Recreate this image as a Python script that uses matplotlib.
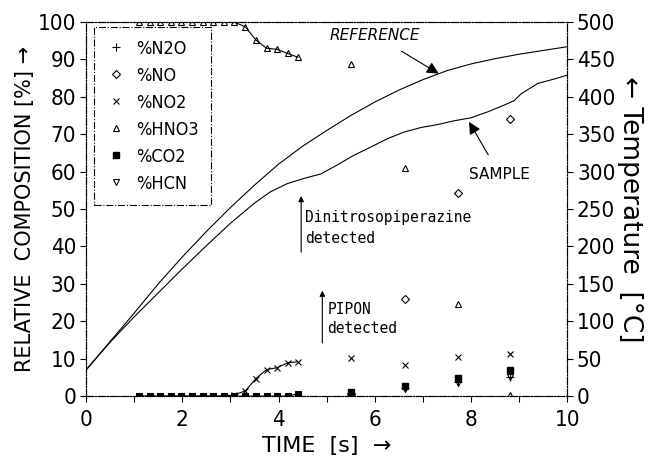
import numpy as np
import matplotlib
matplotlib.use('Agg')
from matplotlib import pyplot as plt
import matplotlib as mpl

mpl.rcParams.update({
    'font.family': ['DejaVu Sans'],
    'font.stretch': 'condensed',
    'font.size': 15,
    'axes.linewidth': 0.8,
})

# dense sampling (0-4.4 s), connected by lines
t_dense = [1.11, 1.33, 1.54, 1.76, 1.98, 2.20, 2.42, 2.64, 2.86, 3.08,
           3.31, 3.53, 3.75, 3.97, 4.19, 4.40]
hno3_dense = [100, 100, 100, 100, 100, 100, 100, 100, 100, 100,
              98.7, 95.2, 93.0, 92.7, 91.6, 90.6]
no2_dense = [0, 0, 0, 0, 0, 0, 0, 0, 0, 0.3,
             1.4, 4.7, 7.1, 7.6, 8.9, 9.2]
co2_dense = [0] * 15 + [0.6]

# sparse sampling, markers only
t_sparse = [5.51, 6.63, 7.74, 8.81]
n2o_sparse = [0.8, 2.2, 3.8, 5.2]
no_sparse = [0.6, 25.9, 54.4, 74.2]
no2_sparse = [10.1, 8.3, 10.5, 11.2]
hno3_sparse = [88.9, 60.9, 24.6, 0.3]
co2_sparse = [1.0, 2.6, 4.8, 7.0]
hcn_sparse = [0.3, 2.0, 3.4, 5.0]

# temperature curves [deg C]
t_ref = [0, 0.5, 1.0, 1.5, 2.0, 2.5, 3.0, 3.5, 4.0, 4.5, 5.0, 5.5,
         6.0, 6.5, 7.0, 7.5, 8.0, 8.5, 9.0, 9.5, 10.0]
temp_ref = [35, 73, 111, 150, 186, 220, 252, 282, 310, 334, 355, 375,
            393, 409, 423, 435, 444, 451, 457, 462, 467]
t_smp = [0, 0.5, 1.0, 1.5, 2.0, 2.5, 3.0, 3.5, 3.83, 4.18, 4.53,
         4.88, 5.22, 5.57, 5.92, 6.26, 6.61, 6.96, 7.31, 7.65, 8.0, 8.35,
         8.69, 8.9, 9.04, 9.39, 9.74, 10.0]
temp_smp = [35, 72, 106, 138, 170, 201, 231, 258, 273, 284, 291,
            297, 309, 322, 333, 344, 353, 359, 363, 368, 372, 380,
            389, 395, 404, 418, 424, 429]

fig = plt.figure(figsize=(6.52, 4.59), dpi=100)
ax = fig.add_axes([0.132, 0.137, 0.738, 0.815])
ax2 = ax.twinx()

ms = 5
kw = dict(color='black', lw=0.8, mew=0.8, ms=ms)
ax.plot(t_dense, hno3_dense, '-', marker='^', mfc='none', **kw)
ax.plot(t_dense, no2_dense, '-', marker='x', **kw)
ax.plot(t_dense, co2_dense, '-', marker='s', mfc='black', **kw)

h1, = ax.plot(t_sparse, n2o_sparse, '+', color='black', mew=0.8, ms=6)
h2, = ax.plot(t_sparse, no_sparse, 'D', mfc='none', color='black', mew=0.8, ms=4)
h3, = ax.plot(t_sparse, no2_sparse, 'x', color='black', mew=0.8, ms=ms)
h4, = ax.plot(t_sparse, hno3_sparse, '^', mfc='none', color='black', mew=0.8, ms=ms)
h5, = ax.plot(t_sparse, co2_sparse, 's', mfc='black', color='black', ms=ms)
h6, = ax.plot(t_sparse, hcn_sparse, 'v', mfc='none', color='black', mew=0.8, ms=ms)

ax2.plot(t_ref, temp_ref, color='black', lw=0.8)
ax2.plot(t_smp, temp_smp, color='black', lw=0.8)

ax.set_xlim(0, 10)
ax.set_ylim(0, 100)
ax2.set_ylim(0, 500)
ax.set_xticks(range(0, 11))
ax.set_xticklabels([str(i) if i % 2 == 0 else '' for i in range(0, 11)])
ax.set_yticks(range(0, 101, 10))
ax2.set_yticks(range(0, 501, 50))
ax.tick_params(direction='out', length=4, width=0.8, pad=3, labelsize=16)
ax.tick_params(axis='x', pad=6)
ax2.tick_params(direction='out', length=4, width=0.8, pad=3, labelsize=16)

for a in (ax, ax2):
    for s in a.spines.values():
        s.set_linestyle('-.')
        s.set_linewidth(0.8)

leg = ax.legend([h1, h2, h3, h4, h5, h6],
                ['%N2O', '%NO', '%NO2', '%HNO3', '%CO2', '%HCN'],
                loc='upper left', bbox_to_anchor=(0.017, 0.987),
                borderaxespad=0, fontsize=13, handlelength=1.0,
                handletextpad=0.6, labelspacing=0.5, borderpad=0.7,
                fancybox=False, edgecolor='black', framealpha=1)
leg.get_frame().set_linestyle('-.')
leg.get_frame().set_linewidth(0.8)

ax.set_xlabel('TIME  [s]  \u2192', fontsize=16, labelpad=4, fontstretch='normal')
ax.set_ylabel('RELATIVE  COMPOSITION [%] \u2192', fontsize=15, labelpad=2,
              fontstretch='normal')
ax2.set_ylabel('\u2190 Temperature  [\u00b0C]', fontsize=19, rotation=270,
               labelpad=20, fontstretch='normal')

ax.annotate('REFERENCE', xy=(7.33, 86.2), xytext=(6.0, 96.5),
            fontsize=11, style='italic', ha='center', va='center',
            fontstretch='normal',
            arrowprops=dict(arrowstyle='-|>', color='black', lw=0.8,
                            mutation_scale=18, shrinkA=8, shrinkB=0))
ax.annotate('SAMPLE', xy=(7.96, 73.3), xytext=(8.6, 59.2),
            fontsize=11, ha='center', va='center', fontstretch='normal',
            arrowprops=dict(arrowstyle='-|>', color='black', lw=0.8,
                            mutation_scale=18, shrinkA=8, shrinkB=0))

ax.annotate('', xy=(4.47, 53.5), xytext=(4.47, 38.5),
            arrowprops=dict(arrowstyle='-|>', color='black', lw=0.8,
                            mutation_scale=8, shrinkA=0, shrinkB=0))
ax.text(4.56, 44.9, 'Dinitrosopiperazine\ndetected', family='DejaVu Sans Mono',
        fontstretch='normal', fontsize=10.5, va='center', ha='left',
        linespacing=1.5)
ax.annotate('', xy=(4.91, 28.2), xytext=(4.91, 14.2),
            arrowprops=dict(arrowstyle='-|>', color='black', lw=0.8,
                            mutation_scale=8, shrinkA=0, shrinkB=0))
ax.text(5.01, 20.6, 'PIPON\ndetected', family='DejaVu Sans Mono',
        fontstretch='normal', fontsize=10.5, va='center', ha='left',
        linespacing=1.3)

plt.savefig('out.png', dpi=100)
